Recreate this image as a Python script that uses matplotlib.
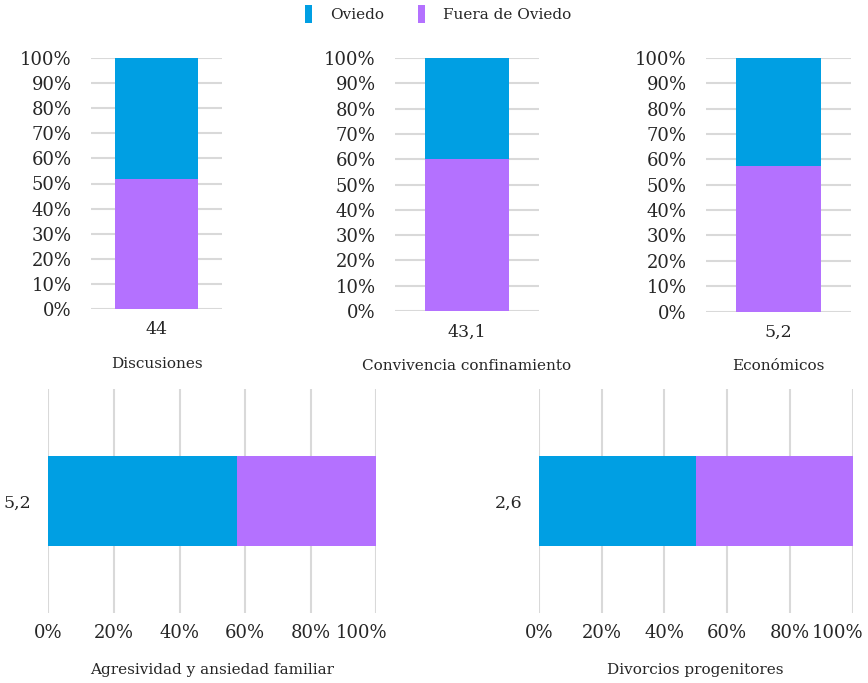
import matplotlib
matplotlib.use("Agg")
import matplotlib.pyplot as plt
import matplotlib.transforms as mtransforms
from matplotlib.patches import Patch
from matplotlib.ticker import PercentFormatter

plt.rcParams['font.family'] = ['DejaVu Serif']

# Share of each problem by origin (percent of the total for that problem)
series_names = ["Oviedo", "Fuera de Oviedo"]

col_titles = ["Discusiones", "Convivencia confinamiento", "Económicos"]
col_labels = ["44", "43,1", "5,2"]
col_oviedo = [48.3, 40.0, 42.5]
col_fuera = [51.7, 60.0, 57.5]

bar_titles = ["Agresividad y ansiedad familiar", "Divorcios progenitores"]
bar_labels = ["5,2", "2,6"]
bar_oviedo = [57.5, 50.0]
bar_fuera = [42.5, 50.0]

pct_ticks_col = list(range(0, 101, 10))
pct_ticks_bar = list(range(0, 101, 20))

BLUE = "#009FE3"
PURPLE = "#B471FF"
GRID = "#D9D9D9"
TEXT = "#262626"

fig = plt.figure(figsize=(8.68, 6.83), dpi=100)
W, H = 868, 683


def add_axes_px(x0, y0, x1, y1):
    return fig.add_axes([x0 / W, 1 - y1 / H, (x1 - x0) / W, (y1 - y0) / H])


col_boxes = [(91, 58, 222, 309), (395, 58, 539, 311), (706, 58, 851, 311.5)]
col_widths = [0.63, 0.58, 0.58]

for i, box in enumerate(col_boxes):
    ax = add_axes_px(*box)
    ax.bar([0], [col_fuera[i]], width=col_widths[i], color=PURPLE, zorder=3)
    ax.bar([0], [col_oviedo[i]], bottom=[col_fuera[i]], width=col_widths[i],
           color=BLUE, zorder=3)
    ax.set_xlim(-0.5, 0.5)
    ax.set_ylim(0, 100)
    ax.set_yticks(pct_ticks_col)
    ax.yaxis.set_major_formatter(PercentFormatter(decimals=0))
    ax.set_xticks([0])
    ax.set_xticklabels([col_labels[i]])
    ax.yaxis.grid(True, color=GRID, linewidth=1.5, zorder=0)
    for s in ax.spines.values():
        s.set_visible(False)
    ax.tick_params(axis='y', length=0, pad=14, labelsize=13, labelcolor=TEXT)
    ax.tick_params(axis='x', length=0, pad=9, labelsize=12.5, labelcolor=TEXT)
    ax.set_xlabel(col_titles[i], fontsize=11, color=TEXT, labelpad=13)

bar_boxes = [(48.3, 389, 376.3, 613), (538.7, 389, 852.7, 613)]
for i, box in enumerate(bar_boxes):
    ax = add_axes_px(*box)
    ax.barh([0], [bar_oviedo[i]], height=0.4, color=BLUE, zorder=3)
    ax.barh([0], [bar_fuera[i]], left=[bar_oviedo[i]], height=0.4,
            color=PURPLE, zorder=3)
    ax.set_ylim(-0.5, 0.5)
    ax.set_xlim(0, 100)
    ax.set_xticks(pct_ticks_bar)
    ax.xaxis.set_major_formatter(PercentFormatter(decimals=0))
    ax.set_yticks([0])
    ax.set_yticklabels([bar_labels[i]])
    ax.xaxis.grid(True, color=GRID, linewidth=1.5, zorder=0)
    for s in ax.spines.values():
        s.set_visible(False)
    ax.tick_params(axis='x', length=0, pad=8, labelsize=13, labelcolor=TEXT)
    ax.tick_params(axis='y', length=0, pad=12, labelsize=12.5, labelcolor=TEXT)
    ax.set_xlabel(bar_titles[i], fontsize=11, color=TEXT, labelpad=15)
    # keep the last percentage label inside the figure edge
    fig.canvas.draw()
    last = ax.get_xticklabels()[-1]
    last.set_horizontalalignment('right')
    last.set_transform(last.get_transform() +
                       mtransforms.ScaledTranslation(11 / 100, 0, fig.dpi_scale_trans))

handles = [Patch(facecolor=BLUE, edgecolor='none'),
           Patch(facecolor=PURPLE, edgecolor='none')]
fig.legend(handles, series_names, loc='center', bbox_to_anchor=(438 / W, 1 - 14 / H),
           ncol=2, frameon=False, fontsize=11, handlelength=0.45,
           handleheight=1.5, handletextpad=1.2, columnspacing=2.2,
           labelcolor=TEXT)

fig.savefig("out.png", dpi=100, facecolor="white")
